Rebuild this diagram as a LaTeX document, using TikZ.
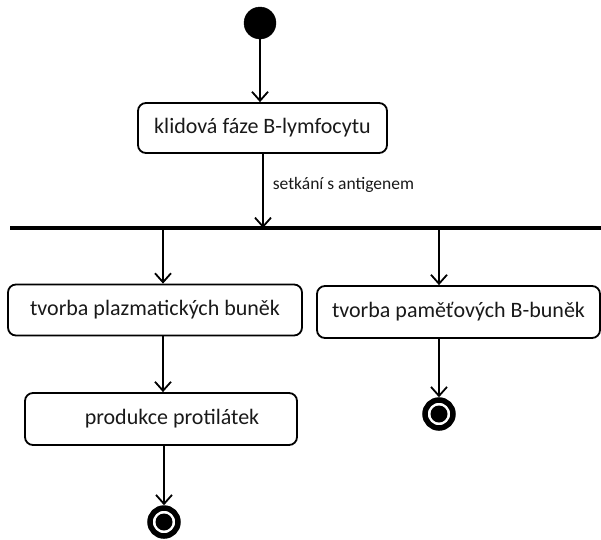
\documentclass[tikz,border=0pt]{standalone}
\usepackage{fontspec}
\setmainfont{Carlito}
\usetikzlibrary{arrows.meta}
\begin{document}
\begin{tikzpicture}[x=1pt,y=-1pt,
  act/.style={draw, line width=1.8pt, rounded corners=8pt, inner sep=0pt,
    text=black!90, font=\fontsize{22}{26}\selectfont},
  flow/.style={line width=1.8pt, -{Straight Barb[length=9pt,width=16pt,line width=1.8pt]}},
  startnode/.style={circle, fill=black, draw=black, minimum size=32pt, inner sep=0pt},
  endnode/.style={circle, draw=black, line width=5.5pt, minimum size=28pt, inner sep=0pt,
    path picture={\fill[black] (path picture bounding box.center) circle (8.5pt);}},
  forkbar/.style={fill=black, inner sep=0pt, minimum height=3.5pt, minimum width=591pt},
  lbl/.style={text=black!90, font=\fontsize{17.5}{20}\selectfont, inner sep=0pt}
]
\useasboundingbox (0,0) rectangle (601,539);

\node[startnode] (start) at (260,23) {};
\node[act, minimum width=249pt, minimum height=50pt] (b1) at (262.5,128) {klidová fáze B-lymfocytu};
\node[forkbar] (bar) at (305.5,228) {};
\node[act, minimum width=294pt, minimum height=51pt] (b2) at (155,310) {tvorba plazmatických buněk};
\node[act, minimum width=283pt, minimum height=52pt] (b3) at (458.5,312) {tvorba paměťových B-buněk};
\node[act, minimum width=272pt, minimum height=52pt] (b4) at (161,419) {\hspace*{22pt}produkce protilátek};
\node[endnode] (e1) at (164,522) {};
\node[endnode] (e2) at (439,414) {};

\coordinate (f0) at (263,228);
\coordinate (f1) at (163,228);
\coordinate (f2) at (439,228);

\draw[flow] (start) -- (start |- b1.north);
\draw[flow] (f0 |- b1.south) -- (f0) node[lbl, anchor=west, pos=0.42, xshift=9pt] {setkání s antigenem};
\draw[flow] (f1) -- (f1 |- b2.north);
\draw[flow] (f2) -- (f2 |- b3.north);
\draw[flow] (f1 |- b2.south) -- (f1 |- b4.north);
\draw[flow] (e1 |- b4.south) -- (e1.north);
\draw[flow] (e2 |- b3.south) -- (e2.north);
\end{tikzpicture}
\end{document}
